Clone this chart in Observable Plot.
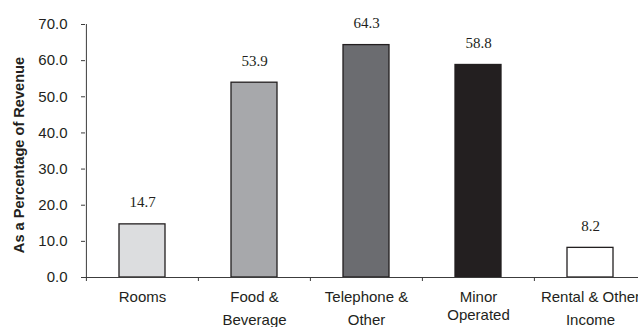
<!DOCTYPE html>
<html>
<head>
<meta charset="utf-8">
<script src="https://cdn.jsdelivr.net/npm/d3@7"></script>
<script src="https://cdn.jsdelivr.net/npm/@observablehq/plot@0.6"></script>
<style>
  body { margin: 0; background: #fff; }
  svg { display: block; }
</style>
</head>
<body>
<div id="chart"></div>
<script>
// Departmental costs as a percentage of departmental revenue
const categories = ["Rooms", "Food & Beverage", "Telephone & Other", "Minor Operated", "Rental & Other Income"];
const labelLines = [["Rooms"], ["Food &", "Beverage"], ["Telephone &", "Other"], ["Minor", "Operated"], ["Rental & Other", "Income"]];
const values = [14.7, 53.9, 64.3, 58.8, 8.2];
const yTicks = [0, 10, 20, 30, 40, 50, 60, 70];

const rows = categories.map((category, i) => ({category, lines: labelLines[i], value: values[i]}));

const W = 638, H = 327;
const xRange = [85, 646];
const bandStep = (xRange[1] - xRange[0]) / categories.length;
const ink = "#231f20";
const axisInk = "#3c3c3c";
const sans = "Liberation Sans, Arial, sans-serif";
const serif = "Liberation Serif, Times New Roman, serif";
const tightLabel = "Minor Operated";

const chart = Plot.plot({
  width: W,
  height: H,
  marginLeft: 85,
  marginRight: 0,
  marginTop: 24,
  marginBottom: 50,
  style: {background: "#fff", overflow: "hidden"},
  x: {domain: categories, range: xRange, paddingInner: 0.59, paddingOuter: 0.295, axis: null},
  y: {domain: [0, 70], axis: null},
  color: {domain: categories, range: ["#dcdddf", "#a7a8ab", "#6b6c70", "#231f20", "#ffffff"]},
  marks: [
    Plot.barY(rows, {x: "category", y: "value", fill: "category", stroke: ink, strokeWidth: 1.3}),
    // y axis: line, outward ticks, one-decimal labels
    Plot.ruleX([categories[0]], {x: d => d, y1: 0, y2: 70, dx: -bandStep / 2, stroke: axisInk, strokeWidth: 1}),
    Plot.axisY({
      ticks: yTicks, tickSize: 4, tickPadding: 14, tickFormat: d => d.toFixed(1),
      fontSize: 15, fontFamily: sans, fill: ink, stroke: axisInk, label: null
    }),
    // baseline and category boundary ticks
    Plot.ruleY([0], {stroke: axisInk, strokeWidth: 1}),
    Plot.axisX({tickSize: 4, tickFormat: () => "", dx: -bandStep / 2, stroke: axisInk, label: null}),
    // category labels (two lines)
    Plot.text(rows, {
      x: "category", text: d => d.lines[0], frameAnchor: "bottom", dy: 20, lineAnchor: "middle",
      fontSize: 15, fontFamily: sans, fill: ink
    }),
    Plot.text(rows.filter(d => d.lines.length > 1 && d.category !== tightLabel), {
      x: "category", text: d => d.lines[1], frameAnchor: "bottom",
      dy: 43, lineAnchor: "middle", fontSize: 15, fontFamily: sans, fill: ink
    }),
    Plot.text(rows.filter(d => d.category === tightLabel), {
      x: "category", text: d => d.lines[1], frameAnchor: "bottom",
      dy: 37.6, lineAnchor: "middle", fontSize: 15, fontFamily: sans, fill: ink
    }),
    // value labels above the bars
    Plot.text(rows, {
      x: "category", y: "value", text: d => d.value.toFixed(1), dy: -17, lineAnchor: "bottom",
      fontSize: 15, fontFamily: serif, fill: ink
    }),
    // y axis title
    Plot.text(["As a Percentage of Revenue"], {
      frameAnchor: "left", text: d => d, rotate: -90, dx: -66, dy: 4,
      textAnchor: "middle", lineAnchor: "middle",
      fontSize: 14.6, fontWeight: "bold", fontFamily: sans, fill: ink
    })
  ]
});

document.getElementById("chart").appendChild(chart);
</script>
</body>
</html>
